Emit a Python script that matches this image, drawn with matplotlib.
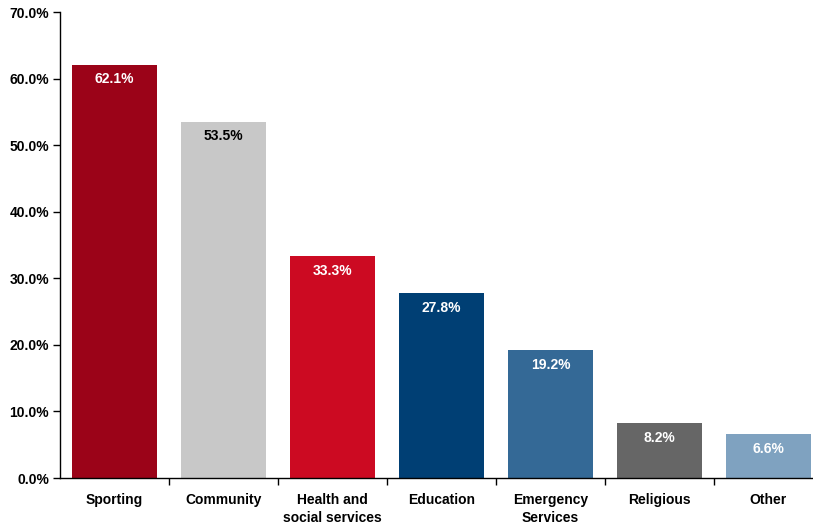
import matplotlib
matplotlib.use("Agg")
import matplotlib.pyplot as plt
from matplotlib.ticker import FuncFormatter, FixedLocator

categories = ["Sporting", "Community", "Health and\nsocial services", "Education",
              "Emergency\nServices", "Religious", "Other"]
values = [62.1, 53.5, 33.3, 27.8, 19.2, 8.2, 6.6]
colors = ["#9B0318", "#C8C8C8", "#CC0A22", "#003F74", "#346996", "#666666", "#7FA2C0"]
label_colors = ["white", "black", "white", "white", "white", "white", "white"]

plt.rcParams["font.family"] = ["Liberation Sans", "DejaVu Sans"]
plt.rcParams["font.weight"] = "bold"

W, H = 813, 524
fig = plt.figure(figsize=(W / 100, H / 100), dpi=100)
ax = fig.add_axes([60 / W, 46 / H, 763 / W, 466 / H])

x = range(len(categories))
bars = ax.bar(x, values, width=0.78, color=colors, zorder=2)
for b, v, c in zip(bars, values, label_colors):
    ax.annotate(f"{v:.1f}%", (b.get_x() + b.get_width() / 2, v),
                xytext=(0, -10.5), textcoords="offset points", ha="center", va="center",
                color=c, fontsize=10, fontweight="bold")

ax.set_xlim(-0.5, len(categories) - 0.5)
ax.set_ylim(0, 70)
ax.yaxis.set_major_locator(FixedLocator([0, 10, 20, 30, 40, 50, 60, 70]))
ax.yaxis.set_major_formatter(FuncFormatter(lambda v, _: f"{v:.1f}%"))
ax.set_xticks([i + 0.5 for i in range(len(categories))])
ax.set_xticklabels([])
ax.set_xticks(list(x), minor=True)
ax.set_xticklabels(categories, minor=True)
ax.tick_params(axis="x", which="minor", length=0, pad=11, labelsize=10)
ax.tick_params(axis="x", which="major", length=5, direction="out", width=1)
ax.tick_params(axis="y", length=5, direction="out", width=1, labelsize=10, pad=3)
for t in ax.get_xticklabels(minor=True):
    t.set_fontweight("bold")
    t.set_verticalalignment("top")
    t.set_linespacing(1.35)
for t in ax.get_yticklabels():
    t.set_fontweight("bold")

for s in ["top", "right"]:
    ax.spines[s].set_visible(False)
ax.spines["left"].set_linewidth(1)
ax.spines["bottom"].set_linewidth(1)

fig.savefig("out.png", dpi=100)
